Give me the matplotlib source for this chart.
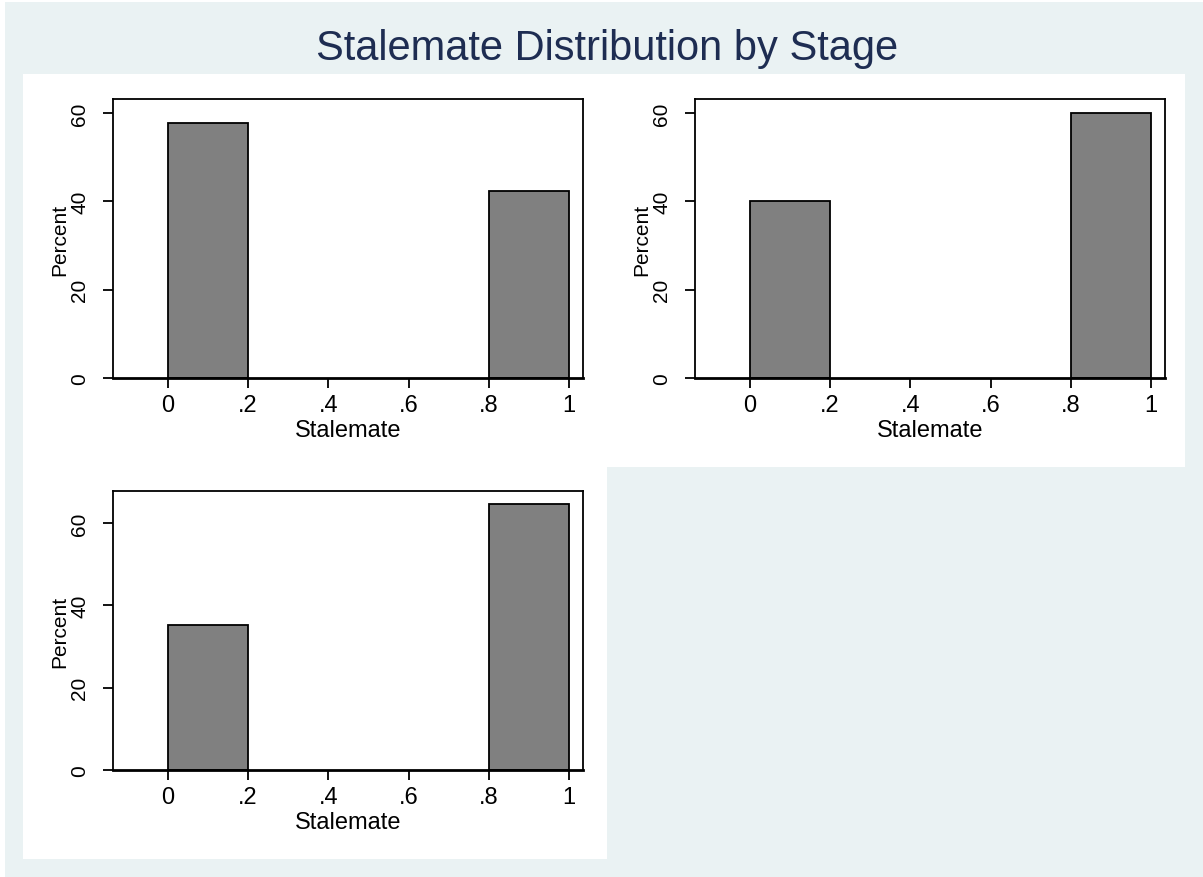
import matplotlib.pyplot as plt
from matplotlib.patches import Rectangle

# ── Data (percent of cases in each stalemate bin) ─────────────────────────────
bin_left = [0.0, 0.8]
bin_width = 0.2
stage1_pct = [57.7, 42.3]
stage2_pct = [40.0, 60.0]
stage3_pct = [35.3, 64.7]
x_ticks = [0, 0.2, 0.4, 0.6, 0.8, 1.0]
x_tick_labels = ["0", ".2", ".4", ".6", ".8", "1"]
y_ticks = [0, 20, 40, 60]

W, H = 1203, 878
OUTER = "#EAF2F3"
BAR = "#808080"
TITLE = "#1E2D52"

plt.rcParams["font.family"] = ["Liberation Sans", "DejaVu Sans"]

fig = plt.figure(figsize=(W / 100, H / 100), dpi=100)
fig.patch.set_facecolor("white")


def px_rect(x0, y0, x1, y1, color):
    fig.patches.append(Rectangle((x0 / W, 1 - y1 / H), (x1 - x0) / W, (y1 - y0) / H,
                                 transform=fig.transFigure, facecolor=color,
                                 edgecolor="none", zorder=-10))


# background panels
px_rect(5, 3, W, H, OUTER)
px_rect(23, 75, 1185, 468, "white")
px_rect(23, 468, 607, 860, "white")

fig.text(607 / W, 1 - 49 / H, "Stalemate Distribution by Stage", color=TITLE,
         fontsize=30, ha="center", va="center")


def panel(x0, y0, x1, y1, values, ymax):
    ax = fig.add_axes([x0 / W, 1 - y1 / H, (x1 - x0) / W, (y1 - y0) / H])
    ax.bar(bin_left, values, width=bin_width, align="edge", color=BAR,
           edgecolor="black", linewidth=1.3)
    ax.set_xlim(-0.137, 1.035)
    ax.set_ylim(0, ymax)
    ax.set_xticks(x_ticks)
    ax.set_xticklabels(x_tick_labels)
    ax.set_yticks(y_ticks)
    ax.set_yticklabels([str(v) for v in y_ticks], rotation=90, va="center")
    ax.tick_params(direction="out", length=7.5, width=1.3, colors="black")
    ax.tick_params(axis="x", labelsize=17, pad=4)
    ax.tick_params(axis="y", labelsize=15, pad=9.5)
    ax.set_xlabel("Stalemate", fontsize=17, labelpad=2)
    ax.set_ylabel("Percent", fontsize=15, labelpad=1)
    for spine in ax.spines.values():
        spine.set_linewidth(1.3)
    ax.spines["bottom"].set_linewidth(2)
    return ax


panel(113, 100, 583, 379, stage1_pct, 63.2)
panel(695, 100, 1165, 379, stage2_pct, 63.2)
panel(113, 492, 583, 771, stage3_pct, 67.8)

fig.savefig("out.png", dpi=100, facecolor=fig.get_facecolor())
